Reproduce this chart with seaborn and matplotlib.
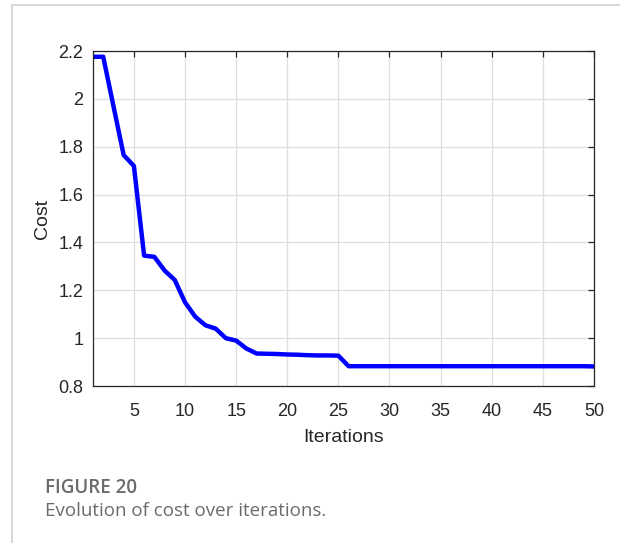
import numpy as np
import pandas as pd
import seaborn as sns
import matplotlib
matplotlib.use("Agg")
import matplotlib.pyplot as plt
from matplotlib.ticker import FuncFormatter
from matplotlib.lines import Line2D

# Cost recorded at each optimisation iteration
iterations = list(range(1, 51))
cost = [2.176, 2.176, 1.970, 1.765, 1.720, 1.345, 1.340, 1.283, 1.243, 1.150,
        1.090, 1.054, 1.040, 1.000, 0.990, 0.957, 0.936, 0.935, 0.934, 0.932,
        0.931, 0.929, 0.928, 0.928, 0.927, 0.883, 0.883, 0.883, 0.883, 0.883,
        0.883, 0.883, 0.883, 0.883, 0.883, 0.883, 0.883, 0.883, 0.883, 0.883,
        0.883, 0.883, 0.883, 0.883, 0.883, 0.883, 0.883, 0.883, 0.883, 0.882]
x_ticks = [5, 10, 15, 20, 25, 30, 35, 40, 45, 50]
y_ticks = [0.8, 1.0, 1.2, 1.4, 1.6, 1.8, 2.0, 2.2]

df = pd.DataFrame({"Iterations": iterations, "Cost": cost})

sns.set_style("white")
plt.rcParams["font.family"] = ["Liberation Sans", "DejaVu Sans"]

fig = plt.figure(figsize=(6.2, 5.43), dpi=100)
ax = fig.add_axes([0.15, 0.289, 0.808, 0.617])

sns.lineplot(data=df, x="Iterations", y="Cost", ax=ax, color="#0000ff",
             linewidth=3.2, solid_joinstyle="round")

ax.set_xlim(1, 50)
ax.set_ylim(0.8, 2.2)
ax.set_xticks(x_ticks)
ax.set_yticks(y_ticks)
ax.yaxis.set_major_formatter(FuncFormatter(lambda v, _: f"{v:g}"))
ax.grid(True, color="#dedede", linewidth=0.9)
ax.set_axisbelow(True)

for side in ["left", "right", "top", "bottom"]:
    ax.spines[side].set_visible(True)
    ax.spines[side].set_color("#262626")
    ax.spines[side].set_linewidth(0.9)
ax.tick_params(direction="in", length=4, width=0.9, color="#262626",
               top=True, right=True, labelsize=13, labelcolor="#262626")
ax.tick_params(axis="x", pad=12)
ax.tick_params(axis="y", pad=7)
ax.set_xlabel("Iterations", fontsize=14, color="#262626", labelpad=7)
ax.set_ylabel("Cost", fontsize=14, color="#262626", labelpad=5)

# Page frame lines around the figure panel
W, H = 620, 543
fig.add_artist(Line2D([12 / W, 1.0], [1 - 5 / H, 1 - 5 / H],
                      transform=fig.transFigure, color="#cfcfcf", linewidth=1.2))
fig.add_artist(Line2D([12 / W, 12 / W], [0.0, 1 - 5 / H],
                      transform=fig.transFigure, color="#cfcfcf", linewidth=1.2))

# Caption
fig.text(45 / W, 1 - 493 / H, "FIGURE 20", fontsize=13.5, fontweight="semibold",
         color="#6b6b6b", family=["Open Sans", "DejaVu Sans"], va="baseline")
fig.text(45 / W, 1 - 516 / H, "Evolution of cost over iterations.", fontsize=13.5,
         color="#6b6b6b", family=["Open Sans", "DejaVu Sans"], va="baseline")

fig.savefig("out.png", dpi=100)
